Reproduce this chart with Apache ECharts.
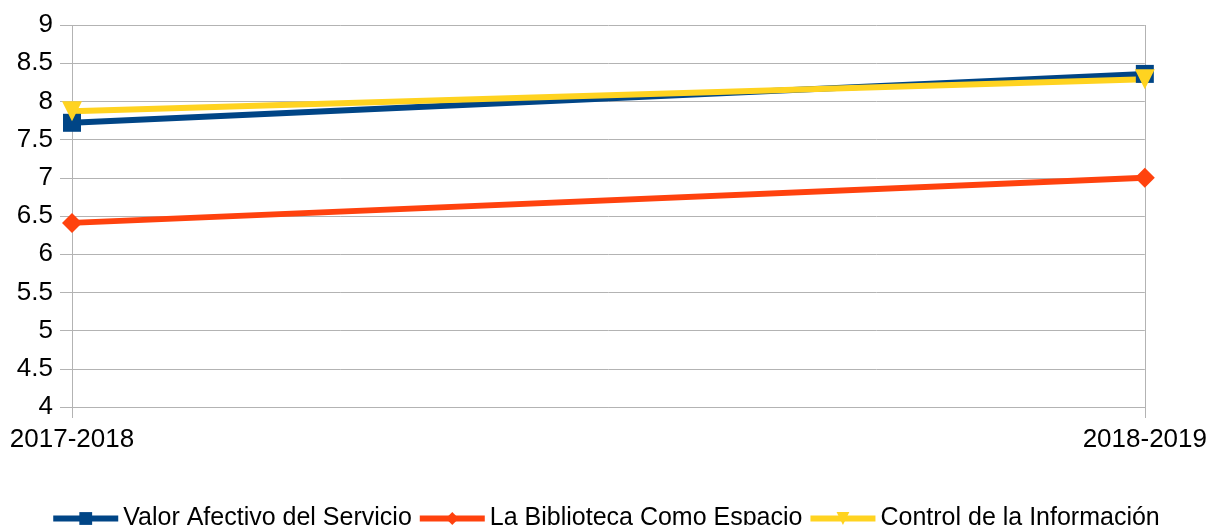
<!DOCTYPE html>
<html><head><meta charset="utf-8">
<script src="https://cdn.jsdelivr.net/npm/echarts@6/dist/echarts.min.js"></script>
<style>html,body{margin:0;padding:0;background:#fff}#c{width:1210px;height:525px}</style>
</head><body><div id="c"></div>
<script>
const categories = ['2017-2018', '2018-2019'];
const valorAfectivo = [7.72, 8.36];
const biblioteca = [6.41, 7.0];
const control = [7.87, 8.29];
const seriesNames = ['Valor Afectivo del Servicio', 'La Biblioteca Como Espacio', 'Control de la Información'];

const chart = echarts.init(document.getElementById('c'));
const font = 'Liberation Sans';
chart.setOption({
  animation: false,
  textStyle: { fontFamily: font },
  grid: { left: 72, right: 65, top: 25, bottom: 118, containLabel: false },
  legend: {
    top: 501, left: 'center',
    itemWidth: 65, itemHeight: 16, itemGap: 5,
    lineStyle: { width: 6 },
    textStyle: { fontFamily: font, fontSize: 25, color: '#000' },
    data: seriesNames
  },
  xAxis: {
    type: 'category', data: categories, boundaryGap: false,
    axisLine: { lineStyle: { color: '#b3b3b3', width: 1 } },
    axisTick: { show: true, length: 11, lineStyle: { color: '#b3b3b3' } },
    splitLine: { show: true, lineStyle: { color: '#b3b3b3', width: 1 } },
    axisLabel: { fontFamily: font, fontSize: 26, color: '#000', margin: 20 }
  },
  yAxis: {
    type: 'value', min: 4, max: 9, interval: 0.5,
    axisLine: { show: false },
    axisTick: { show: true, length: 12, lineStyle: { color: '#b3b3b3' } },
    splitLine: { show: true, lineStyle: { color: '#b3b3b3', width: 1 } },
    axisLabel: { fontFamily: font, fontSize: 26, color: '#000', margin: 19 }
  },
  series: [
    { name: seriesNames[0], type: 'line', data: valorAfectivo, symbol: 'rect', symbolSize: 18,
      lineStyle: { width: 6, color: '#004586' }, itemStyle: { color: '#004586' } },
    { name: seriesNames[1], type: 'line', data: biblioteca, symbol: 'diamond', symbolSize: 20,
      lineStyle: { width: 6, color: '#ff420e' }, itemStyle: { color: '#ff420e' } },
    { name: seriesNames[2], type: 'line', data: control, symbol: 'triangle', symbolRotate: 180, symbolSize: 20,
      lineStyle: { width: 6, color: '#ffd320' }, itemStyle: { color: '#ffd320' } }
  ]
});
</script></body></html>
